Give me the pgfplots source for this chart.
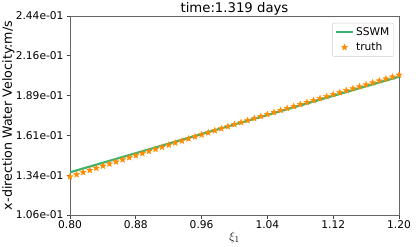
\documentclass[border=0pt]{standalone}
\usepackage{fontspec}
\setmainfont{DejaVu Sans}
\usepackage{pgfplots}
\pgfplotsset{compat=1.18}
\definecolor{sswm}{HTML}{3CB371}
\definecolor{truthc}{HTML}{FF8C00}
\newcommand{\mplfont}{\fontsize{10.7}{12.5}\selectfont}
\newcommand{\labfont}{\fontsize{12.7}{14.5}\selectfont}

% filled five-pointed star, like matplotlib's '*'
\pgfdeclareplotmark{fstar}{%
  \pgfpathmoveto{\pgfpointpolar{90}{\pgfplotmarksize}}%
  \pgfpathlineto{\pgfpointpolar{126}{0.42\pgfplotmarksize}}%
  \pgfpathlineto{\pgfpointpolar{162}{\pgfplotmarksize}}%
  \pgfpathlineto{\pgfpointpolar{198}{0.42\pgfplotmarksize}}%
  \pgfpathlineto{\pgfpointpolar{234}{\pgfplotmarksize}}%
  \pgfpathlineto{\pgfpointpolar{270}{0.42\pgfplotmarksize}}%
  \pgfpathlineto{\pgfpointpolar{306}{\pgfplotmarksize}}%
  \pgfpathlineto{\pgfpointpolar{342}{0.42\pgfplotmarksize}}%
  \pgfpathlineto{\pgfpointpolar{18}{\pgfplotmarksize}}%
  \pgfpathlineto{\pgfpointpolar{54}{0.42\pgfplotmarksize}}%
  \pgfpathclose
  \pgfusepathqfillstroke
}

\begin{document}
\begin{tikzpicture}[x=1bp,y=1bp]
\useasboundingbox (0,0) rectangle (416,247);
\begin{axis}[
    at={(70bp,32bp)}, anchor=south west,
    scale only axis,
    width=329bp, height=199bp,
    xmin=0.8, xmax=1.2,
    ymin=0.106, ymax=0.244,
    xtick={0.80,0.88,0.96,1.04,1.12,1.20},
    xticklabels={0.80,0.88,0.96,1.04,1.12,1.20},
    ytick={0.106,0.1336,0.1612,0.1888,0.2164,0.244},
    yticklabels={1.06e-01,1.34e-01,1.61e-01,1.89e-01,2.16e-01,2.44e-01},
    tick align=outside,
    tick pos=left,
    major tick length=3.5bp,
    axis line style={black!60, line width=0.7bp},
    tick style={black!75, line width=0.7bp},
    tick label style={font=\mplfont},
    xticklabel style={yshift=1.5bp},
    yticklabel style={xshift=0.5bp},
    /pgf/number format/assume math mode=true,
    xlabel={$\xi_1$},
    ylabel={x-direction Water Velocity:m/s},
    label style={font=\labfont},
    xlabel style={font=\fontsize{13}{15}\selectfont,
        at={(axis description cs:0.5,-0.115)}, anchor=center},
    ylabel style={at={(axis description cs:-0.187,0.5)}, anchor=center},
    title={time:1.319 days},
    title style={font=\fontsize{13.3}{15}\selectfont,
        at={(axis description cs:0.5,1.006)}, anchor=center},
    legend style={at={(0.985,0.965)}, anchor=north east,
        draw=black!20, rounded corners=2bp, font=\mplfont,
        row sep=1.5bp, inner sep=2.5bp},
    legend cell align=left,
    clip=true,
]
\addplot[sswm, line width=2.2bp] coordinates {
    (0.80, 0.1356) (1.00, 0.16875) (1.20, 0.2019)
};
\addlegendentry{SSWM}
\addplot[only marks, mark=fstar, mark size=3.3bp, truthc,
    mark options={fill=truthc, line width=0.3bp}] coordinates {
(0.800,0.13260) (0.808,0.13408) (0.816,0.13557) (0.824,0.13704) (0.832,0.13852)
(0.840,0.13999) (0.848,0.14146) (0.856,0.14293) (0.864,0.14439) (0.872,0.14585)
(0.880,0.14731) (0.888,0.14876) (0.896,0.15021) (0.904,0.15166) (0.912,0.15311)
(0.920,0.15455) (0.928,0.15599) (0.936,0.15742) (0.944,0.15886) (0.952,0.16029)
(0.960,0.16171) (0.968,0.16314) (0.976,0.16456) (0.984,0.16597) (0.992,0.16739)
(1.000,0.16880) (1.008,0.17021) (1.016,0.17161) (1.024,0.17302) (1.032,0.17442)
(1.040,0.17581) (1.048,0.17721) (1.056,0.17860) (1.064,0.17998) (1.072,0.18137)
(1.080,0.18275) (1.088,0.18413) (1.096,0.18550) (1.104,0.18687) (1.112,0.18824)
(1.120,0.18961) (1.128,0.19097) (1.136,0.19233) (1.144,0.19369) (1.152,0.19504)
(1.160,0.19639) (1.168,0.19774) (1.176,0.19908) (1.184,0.20043) (1.192,0.20176)
(1.200,0.20310)
};
\addlegendentry{truth}
\end{axis}
\end{tikzpicture}
\end{document}
